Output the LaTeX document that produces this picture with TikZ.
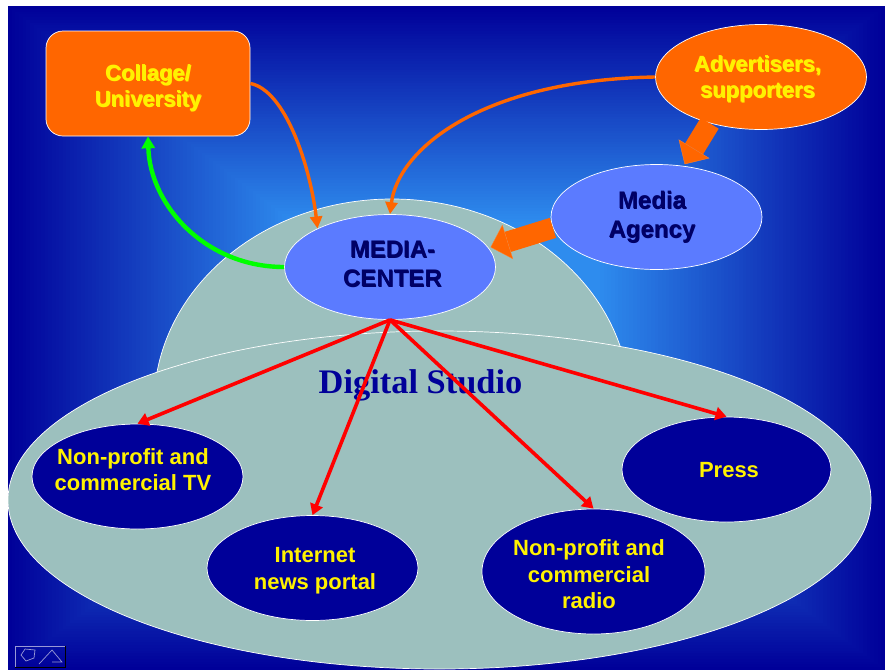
\documentclass[tikz,border=0pt]{standalone}
\usepackage{fontspec}
\setmainfont{Liberation Sans}
\newfontfamily\serifbold{Liberation Serif}
\usetikzlibrary{shapes.geometric,arrows.meta}
\definecolor{bgin}{HTML}{2E8CEE}
\definecolor{bgout}{HTML}{000099}
\definecolor{teal}{HTML}{9CC0BE}
\definecolor{orng}{HTML}{FF6600}
\definecolor{navy}{HTML}{000099}
\definecolor{inkdark}{HTML}{000066}
\definecolor{periw}{HTML}{5B7BFF}
\definecolor{shd}{HTML}{6B5A00}
\newcommand\shtext[1]{\sbox0{#1}\rlap{\kern1pt\raisebox{-1pt}{\textcolor{shd}{\usebox0}}}\usebox0}
\newcommand\inktext[1]{\sbox0{#1}\rlap{\kern0.7pt\raisebox{-0.7pt}{\usebox0}}\usebox0}
\newcommand\lab[3]{\smash{\kern#1pt\kern#1pt\raisebox{#2pt}{\begin{tabular}{@{}c@{}}#3\end{tabular}}}}
\tikzset{
  edgeline/.style={draw=white,line width=0.7pt},
  oval/.style={shape=ellipse,edgeline,inner sep=0pt,minimum width=211pt,minimum height=105pt},
  orangeoval/.style={oval,fill=orng,text=yellow,font=\fontsize{22}{26.5}\selectfont\bfseries},
  blueoval/.style={oval,fill=periw,text=inkdark,font=\fontsize{24}{29}\selectfont\bfseries},
  navyoval/.style={oval,fill=navy,text=yellow,font=\fontsize{22}{26.5}\selectfont\bfseries},
  redarrow/.style={draw=red,line width=3.6pt,-{Triangle[length=11pt,width=13pt]}},
  orangearrow/.style={draw=orng,line width=3.4pt,-{Triangle[length=12pt,width=12pt]}},
  greenarrow/.style={draw=green,line width=4.4pt,-{Triangle[length=12pt,width=13pt]}},
  blockarrow/.style={draw=orng,line width=21pt,shorten >=2pt,-{Triangle[length=18pt,width=36pt,line width=0.3pt,fill=orng,color=orng!80!white]}},
}
\begin{document}
\begin{tikzpicture}[x=1pt,y=-1pt]
\useasboundingbox (0,0) rectangle (885,670);
\fill[white] (0,0) rectangle (885,670);
% background: rectangular gradient, flat bright core
\foreach \i in {0,...,120}{
  \pgfmathsetmacro\t{1-\i/120}
  \pgfmathsetmacro\p{min(100,100*(1-\t)/0.65)}
  \fill[color=bgin!\p!bgout] ({446.5-438.5*\t},{338-332*\t}) rectangle ({446.5+438.5*\t},{338+332*\t});
}
% dome and studio floor
\node[shape=ellipse,edgeline,fill=teal,inner sep=0pt,minimum width=476pt,minimum height=412pt] (dome) at (392,405) {};
\node[shape=ellipse,edgeline,fill=teal,inner sep=0pt,minimum width=863pt,minimum height=338pt] (floor) at (439.5,500) {};
\node[text=navy,font=\serifbold\fontsize{34.4}{36}\selectfont\bfseries] (studio) at (420.5,385) {Digital Studio};
% top row
\node[shape=rectangle,rounded corners=17pt,edgeline,fill=orng,inner sep=0pt,minimum width=204pt,minimum height=105pt,text=yellow,font=\fontsize{22}{26.5}\selectfont\bfseries] (college) at (148,83.5) {\lab{0}{-10}{\shtext{Collage/}\\\shtext{University}}};
\node[orangeoval] (adv) at (761,77) {\lab{-3.5}{-7.5}{\shtext{Advertisers,}\\\shtext{supporters}}};
\node[blueoval] (agency) at (656.5,217) {\lab{-4.5}{-6.7}{\inktext{Media}\\\inktext{Agency}}};
\node[blueoval] (mc) at (390,267) {\lab{2.5}{-5.4}{\inktext{MEDIA-}\\\inktext{CENTER}}};
% outlets
\node[navyoval] (tv) at (137.5,476.5) {\lab{-4.5}{-1}{Non-profit and\\commercial TV}};
\node[navyoval] (web) at (312.5,568) {\lab{2.5}{-8}{Internet\\news portal}};
\node[navyoval,minimum width=223pt,minimum height=125pt] (radio) at (593.5,571.5) {\lab{-4.5}{-10.7}{Non-profit and\\commercial\\radio}};
\node[navyoval,minimum width=209pt] (press) at (726.5,469.5) {\lab{2.5}{-7.7}{Press}};
% connectors
\draw[redarrow] (mc.south) -- (tv.north);
\draw[redarrow] (mc.south) -- (web.north);
\draw[redarrow] (mc.south) -- (radio.north);
\draw[redarrow] (mc.south) -- (press.north);
\draw[orangearrow] (college.east) .. controls (285,90) and (310,165) .. (mc.152);
\draw[orangearrow] (adv.west) .. controls (480,80) and (398,150) .. (mc.north);
\draw[greenarrow] (mc.west) .. controls (205,267) and (150,205) .. (college.south);
\draw[blockarrow] (adv.222) -- (agency.62);
\draw[blockarrow] (agency.186) -- (mc.11);
% slide button
\draw[color=black,line width=1pt] (65,646) -- (65,667) -- (15,667);
\draw[color=white!60!navy,line width=0.7pt] (15,667) -- (15,646) -- (65,646);
\draw[color=white!60!navy,line width=0.7pt] (21,655) -- (25,649) -- (35,650) -- (34,658) -- (26,661) -- cycle;
\draw[color=white!60!navy,line width=0.7pt] (39,664) -- (52,650) -- (62,662) -- (52,662);
\end{tikzpicture}
\end{document}
